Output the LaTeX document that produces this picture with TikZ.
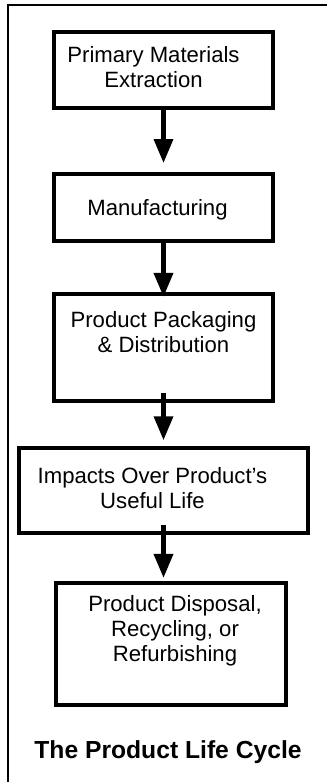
\documentclass[tikz,border=0pt]{standalone}
\usepackage{fontspec}
\setmainfont{Liberation Sans}
\usetikzlibrary{arrows.meta}
% stage text, #1 = extra space on the right (moves the text left by half of it)
\newcommand{\stagelines}[2]{\begin{tabular}{@{}c@{}}#2\end{tabular}\hspace*{#1}}

\begin{document}
\begin{tikzpicture}[x=0.75pt,y=-0.75pt,
    stagebox/.style={draw, line width=3.6pt, align=center, inner sep=0pt,
        font=\fontsize{16.6}{18.75}\selectfont},
    flow/.style={-{Triangle[width=14pt,length=18pt]}, line width=3.4pt}]
    \useasboundingbox (0,0) rectangle (327,782);
    % frame (open at right and bottom)
    \draw[line width=1.5pt] (327,5) -- (8,5) -- (8,782);

    % life cycle stages
    \node[stagebox, minimum width=164.25pt, minimum height=57pt] (extract) at (163.5,70) {\stagelines{15pt}{Primary Materials\\Extraction}};
    \node[stagebox, minimum width=164.25pt, minimum height=50.25pt] (manuf) at (163.5,207.5) {\stagelines{9pt}{\raisebox{-3pt}{Manufacturing}}};
    \node[stagebox, minimum width=164.25pt, minimum height=80.25pt] (pack) at (163.5,347.5) {\stagelines{0pt}{Product Packaging\\\& Distribution\\\mbox{}}};
    \node[stagebox, minimum width=216.75pt, minimum height=63.75pt] (use) at (163.5,490.5) {\stagelines{16.5pt}{Impacts Over Product’s\\Useful Life}};
    \node[stagebox, minimum width=172.5pt, minimum height=91.5pt] (dispose) at (171,644) {\stagelines{-6pt}{Product Disposal,\\Recycling, or\\Refurbishing\\\mbox{}}};

    \node[font=\bfseries\fontsize{18.5}{22}\selectfont] (title) at (168,752) {The Product Life Cycle};

    \draw[flow] (extract) -- ([yshift=6.4pt]manuf.north);
    \draw[flow] (manuf) -- ([yshift=-4pt]pack.north);
    \draw[flow] ([yshift=7.5pt]pack.south) -- ([yshift=4pt]use.north);
    \draw[flow] ([yshift=7.5pt]use.south) -- ([yshift=2pt]use.south |- dispose.north);
\end{tikzpicture}
\end{document}
